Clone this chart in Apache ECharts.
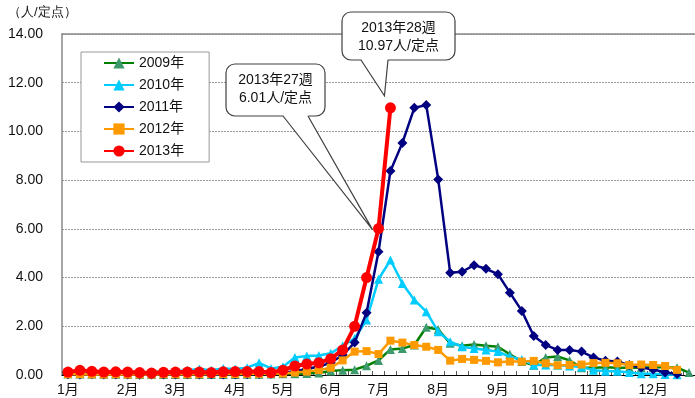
<!DOCTYPE html>
<html>
<head>
<meta charset="utf-8">
<script src="https://cdn.jsdelivr.net/npm/echarts@6/dist/echarts.min.js"></script>
<style>
  html, body { margin: 0; padding: 0; background: #fff; }
  #chart { width: 695px; height: 398px; }
</style>
</head>
<body>
<div id="chart"></div>
<script>
// 週ごと (1〜53週) の定点当たり報告数
var monthNames = ['1月', '2月', '3月', '4月', '5月', '6月', '7月', '8月', '9月', '10月', '11月', '12月'];
var monthWeekIndex = [0, 5, 9, 14, 18, 22, 26, 31, 36, 40, 44, 49];
var weekCount = 53;
var yTicks = [0, 2, 4, 6, 8, 10, 12, 14];

var y2009 = [0.05, 0.04, 0.04, 0.03, 0.03, 0.03, 0.02, 0.02, 0.02, 0.02,
             0.02, 0.02, 0.02, 0.02, 0.02, 0.03, 0.03, 0.04, 0.05, 0.05,
             0.06, 0.08, 0.16, 0.2, 0.22, 0.38, 0.6, 1.05, 1.09, 1.23,
             1.96, 1.87, 1.3, 1.2, 1.25, 1.2, 1.16, 0.85, 0.55, 0.4,
             0.72, 0.76, 0.6, 0.3, 0.3, 0.32, 0.3, 0.3, 0.3, 0.32,
             0.32, 0.3, 0.1];
var y2010 = [0.05, 0.05, 0.04, 0.05, 0.06, 0.08, 0.1, 0.12, 0.14, 0.15,
             0.2, 0.25, 0.2, 0.27, 0.25, 0.3, 0.5, 0.27, 0.34, 0.72,
             0.78, 0.8, 0.89, 1.2, 1.5, 2.26, 3.93, 4.72, 3.76, 3.08,
             2.6, 1.78, 1.37, 1.16, 1.09, 1.03, 0.96, 0.75, 0.64, 0.41,
             0.41, 0.4, 0.37, 0.33, 0.2, 0.15, 0.15, 0.1, 0.05, 0.05,
             0.02, 0.01];
var y2011 = [0.03, 0.02, 0.03, 0.02, 0.02, 0.02, 0.01, 0.02, 0.02, 0.02,
             0.03, 0.02, 0.03, 0.02, 0.03, 0.03, 0.04, 0.05, 0.08, 0.15,
             0.25, 0.35, 0.5, 0.82, 1.33, 2.56, 5.06, 8.38, 9.53, 10.97,
             11.08, 8.03, 4.2, 4.24, 4.51, 4.36, 4.14, 3.38, 2.63, 1.6,
             1.23, 1.03, 1.03, 0.96, 0.72, 0.59, 0.55, 0.41, 0.31, 0.23,
             0.1, 0.04];
var y2012 = [0.03, 0.03, 0.02, 0.02, 0.03, 0.02, 0.02, 0.02, 0.03, 0.03,
             0.03, 0.03, 0.04, 0.04, 0.04, 0.05, 0.05, 0.05, 0.06, 0.1,
             0.14, 0.2, 0.3, 0.6, 0.96, 0.98, 0.86, 1.41, 1.33, 1.23,
             1.16, 1.03, 0.59, 0.66, 0.62, 0.58, 0.52, 0.55, 0.55, 0.58,
             0.48, 0.4, 0.41, 0.43, 0.49, 0.5, 0.48, 0.41, 0.43, 0.41,
             0.37, 0.21];
var y2013 = [0.12, 0.19, 0.15, 0.12, 0.13, 0.12, 0.1, 0.08, 0.11, 0.12,
             0.12, 0.12, 0.1, 0.13, 0.14, 0.14, 0.14, 0.1, 0.2, 0.37,
             0.45, 0.5, 0.67, 1.03, 2.0, 4.0, 6.01, 10.97];

var fontFamily = "'Liberation Sans', 'Noto Sans CJK JP', sans-serif";

var categories = [];
for (var i = 0; i < weekCount; i++) categories.push('');
monthWeekIndex.forEach(function (w, k) { categories[w] = monthNames[k]; });

function lineSeries(name, data, color, markerColor, symbol, size, width, z) {
    return {
        name: name,
        type: 'line',
        data: data,
        symbol: symbol,
        symbolSize: size,
        showSymbol: true,
        z: z,
        lineStyle: { color: color, width: width },
        itemStyle: { color: markerColor, borderWidth: 0 },
        emphasis: { disabled: true },
        animation: false
    };
}

var chart = echarts.init(document.getElementById('chart'));
var option = {
    animation: false,
    textStyle: { fontFamily: fontFamily },
    grid: { left: 62, right: -3, top: 34, bottom: 23 },
    legend: {
        orient: 'vertical',
        left: 81, top: 52,
        itemWidth: 30, itemHeight: 14, itemGap: 8,
        padding: [4, 25, 4, 22],
        borderColor: '#999', borderWidth: 1,
        backgroundColor: '#fff',
        textStyle: { fontSize: 14, color: '#111', fontFamily: fontFamily },
        data: ['2009年', '2010年', '2011年', '2012年', '2013年']
    },
    xAxis: [{
        type: 'category',
        data: categories,
        boundaryGap: true,
        axisLine: { lineStyle: { color: '#000', width: 1 } },
        axisTick: { show: true, interval: 0, inside: true, length: 4, lineStyle: { color: '#555' } },
        axisLabel: { interval: 0, color: '#111', fontSize: 14, margin: 8, fontFamily: fontFamily },
        splitLine: { show: false }
    }, {
        type: 'category',
        data: categories,
        position: 'top',
        axisLine: { lineStyle: { color: '#8a8a8a', width: 1.5 } },
        axisTick: { show: false },
        axisLabel: { show: false }
    }],
    yAxis: {
        type: 'value',
        min: yTicks[0], max: yTicks[yTicks.length - 1], interval: 2,
        axisLine: { show: true, lineStyle: { color: '#888', width: 1.5 } },
        axisTick: { show: false },
        axisLabel: {
            color: '#111', fontSize: 14, margin: 19, fontFamily: fontFamily,
            formatter: function (v) { return v.toFixed(2); }
        },
        splitLine: { lineStyle: { color: '#9a9a9a', type: [2, 1], width: 1 } }
    },
    series: [
        lineSeries('2009年', y2009, '#008000', '#3c9a6c', 'triangle', 9, 2.5, 2),
        lineSeries('2010年', y2010, '#00ccff', '#00ccff', 'triangle', 9, 2.5, 3),
        lineSeries('2011年', y2011, '#000080', '#000080', 'diamond', 10, 2.5, 4),
        lineSeries('2012年', y2012, '#ff9900', '#ff9900', 'rect', 8, 2.5, 5),
        lineSeries('2013年', y2013, '#ff0000', '#ff0000', 'circle', 11, 4, 6)
    ],
    graphic: [{
        type: 'text', left: 8, top: 6,
        style: { text: '（人/定点）', fontSize: 13, fill: '#111', font: '13px ' + fontFamily }
    }]
};
chart.setOption(option);

// 吹き出し
function callout(box, tailX1, tailX2, tip, lines) {
    var by = box.y + box.h;
    var els = [{
        type: 'rect', z: 100,
        shape: { x: box.x, y: box.y, width: box.w, height: box.h, r: 9 },
        style: { fill: '#fff', stroke: '#404040', lineWidth: 1.2 }
    }, {
        type: 'polygon', z: 101,
        shape: { points: [[tailX1, by - 1], [tailX2, by - 1], tip] },
        style: { fill: '#fff' }
    }, {
        type: 'polyline', z: 102,
        shape: { points: [[tailX1, by], tip, [tailX2, by]] },
        style: { stroke: '#404040', lineWidth: 1.2, fill: null }
    }];
    lines.forEach(function (t, k) {
        els.push({
            type: 'text', z: 103,
            x: box.x + box.w / 2, y: box.y + 16 + k * 18,
            style: { text: t, font: '14px ' + fontFamily, fill: '#111', align: 'center', verticalAlign: 'middle' }
        });
    });
    return els;
}

var p27 = chart.convertToPixel({ seriesIndex: 4 }, [26, y2013[26]]);
var p28 = chart.convertToPixel({ seriesIndex: 4 }, [27, y2013[27]]);
var graphics = option.graphic.concat(
    callout({ x: 226, y: 64, w: 99, h: 52 }, 283, 308, [p27[0] - 6, p27[1] + 1],
        ['2013年27週', '6.01人/定点']),
    callout({ x: 342, y: 12, w: 113, h: 48 }, 361, 388, [p28[0] - 6, p28[1] - 12],
        ['2013年28週', '10.97人/定点'])
);
chart.setOption({ graphic: graphics });
</script>
</body>
</html>
